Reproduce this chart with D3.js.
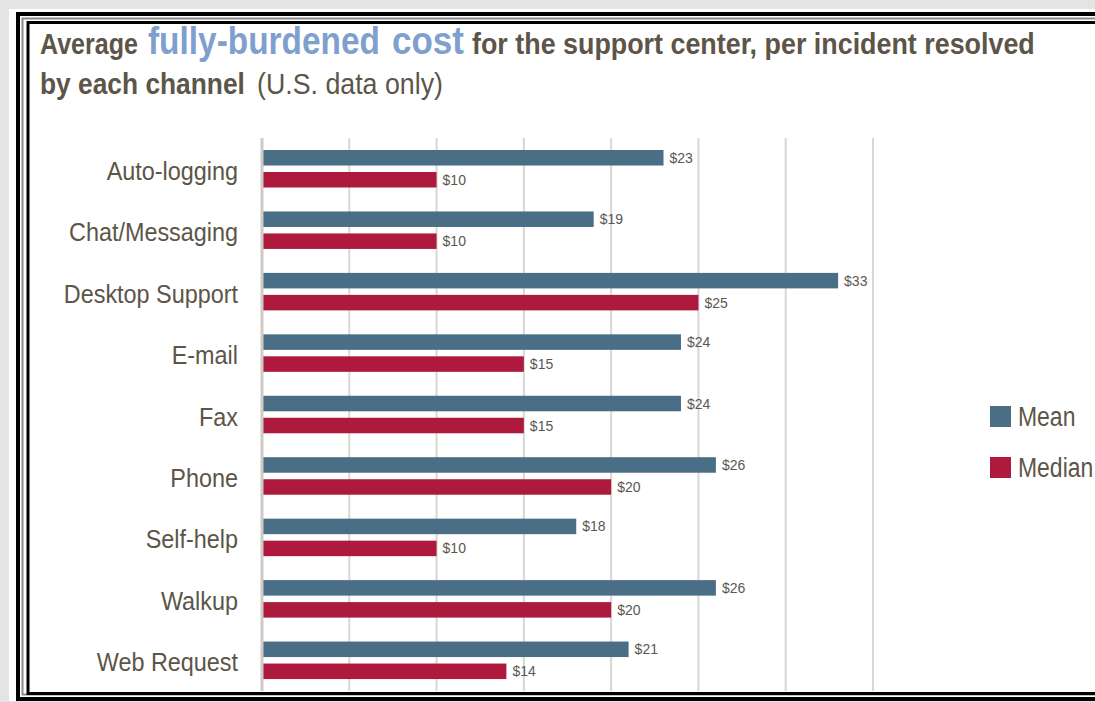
<!DOCTYPE html>
<html>
<head>
<meta charset="utf-8">
<script src="https://cdn.jsdelivr.net/npm/d3@7"></script>
<style>
  body { margin: 0; background: #fff; }
  svg { display: block; }
</style>
</head>
<body>
<div id="chart"></div>
<script>
var categories = ["Auto-logging", "Chat/Messaging", "Desktop Support", "E-mail", "Fax", "Phone", "Self-help", "Walkup", "Web Request"];
var series = ["Mean", "Median"];
var meanValues = [23, 19, 33, 24, 24, 26, 18, 26, 21];
var medianValues = [10, 10, 25, 15, 15, 20, 10, 20, 14];
var xTicks = [0, 5, 10, 15, 20, 25, 30, 35];

var colors = { Mean: "#4a6e85", Median: "#ad1a3d" };
var textColor = "#5c5548";
var font = "'Liberation Sans', Arial, sans-serif";
var squeeze = 0.9;   // condensed look, no narrow font installed

var width = 1095, height = 702;

var svg = d3.select("#chart").append("svg")
  .attr("width", width)
  .attr("height", height);

// frame
svg.append("rect").attr("width", width).attr("height", height).attr("fill", "#e4e4e4");
svg.append("rect").attr("x", 9).attr("y", 9).attr("width", 1200).attr("height", 692).attr("fill", "#fff");
svg.append("rect").attr("x", 18).attr("y", 14).attr("width", 1200).attr("height", 685)
  .attr("fill", "none").attr("stroke", "#000").attr("stroke-width", 4);
svg.append("rect").attr("x", 22.5).attr("y", 18.5).attr("width", 1200).attr("height", 676)
  .attr("fill", "none").attr("stroke", "#8a8a8a").attr("stroke-width", 2);
svg.append("rect").attr("x", 28).attr("y", 22.5).attr("width", 1200).attr("height", 671)
  .attr("fill", "#fff").attr("stroke", "#000").attr("stroke-width", 3);

// title pieces: [text, x, baseline, width, size, weight, colour]
var titleParts = [
  ["Average", 40, 54, 98, 30, "bold", textColor],
  ["fully-burdened", 148, 54, 232, 39, "bold", "#7f9fce"],
  ["cost", 392, 54, 72, 39, "bold", "#7f9fce"],
  ["for the support center, per incident resolved", 472, 54, 563, 30, "bold", textColor],
  ["by each channel", 40, 94, 205, 30, "bold", textColor],
  ["(U.S. data only)", 257, 94, 186, 30, "normal", textColor]
];
svg.append("g").selectAll("text")
  .data(titleParts)
  .enter().append("text")
  .attr("font-family", font)
  .attr("font-size", d => d[4])
  .attr("font-weight", d => d[5])
  .attr("fill", d => d[6])
  .text(d => d[0])
  .attr("transform", function(d) {
    var w = this.getComputedTextLength();
    return "translate(" + d[1] + "," + d[2] + ") scale(" + (d[3] / w) + ",1)";
  });

// scales
var x = d3.scaleLinear().domain([0, 35]).range([262, 873]);
var y0 = d3.scaleBand().domain(categories).range([138, 691]);
var y1 = d3.scaleBand().domain(series).range([12, 49.5]).paddingInner(0.295);

// grid
svg.append("g").selectAll("line")
  .data(xTicks.slice(1))
  .enter().append("line")
  .attr("x1", d => x(d)).attr("x2", d => x(d))
  .attr("y1", 138).attr("y2", 691)
  .attr("stroke", "#d9d7d1").attr("stroke-width", 2);

var rows = categories.map((c, i) => ({ category: c, values: [
  { key: "Mean", value: meanValues[i] },
  { key: "Median", value: medianValues[i] }
] }));

var groups = svg.append("g").selectAll("g")
  .data(rows)
  .enter().append("g")
  .attr("transform", d => "translate(0," + y0(d.category) + ")");

groups.selectAll("rect")
  .data(d => d.values)
  .enter().append("rect")
  .attr("x", x(0))
  .attr("y", d => y1(d.key))
  .attr("width", d => x(d.value) - x(0))
  .attr("height", y1.bandwidth())
  .attr("fill", d => colors[d.key]);

groups.selectAll("text.val")
  .data(d => d.values)
  .enter().append("text")
  .attr("class", "val")
  .attr("x", d => x(d.value) + 6)
  .attr("y", d => y1(d.key) + y1.bandwidth() / 2 + 5)
  .attr("font-family", font)
  .attr("font-size", 14)
  .attr("fill", "#5a5752")
  .text(d => "$" + d.value);

// category labels
svg.append("g").selectAll("text")
  .data(categories)
  .enter().append("text")
  .attr("transform", d => "translate(238," + (y0(d) + y0.bandwidth() / 2 + 11) + ") scale(" + squeeze + ",1)")
  .attr("text-anchor", "end")
  .attr("font-family", font)
  .attr("font-size", 26)
  .attr("fill", textColor)
  .text(d => d);

// axis line
svg.append("line")
  .attr("x1", x(0)).attr("x2", x(0))
  .attr("y1", 138).attr("y2", 691)
  .attr("stroke", "#cfccc5").attr("stroke-width", 3);

// legend
var legend = svg.append("g").selectAll("g")
  .data(series)
  .enter().append("g")
  .attr("transform", (d, i) => "translate(990," + (406 + i * 51) + ")");
legend.append("rect").attr("width", 21).attr("height", 21).attr("fill", d => colors[d]);
legend.append("text")
  .attr("transform", "translate(28,20) scale(0.85,1)")
  .attr("font-family", font).attr("font-size", 27).attr("fill", textColor)
  .text(d => d);
</script>
</body>
</html>
